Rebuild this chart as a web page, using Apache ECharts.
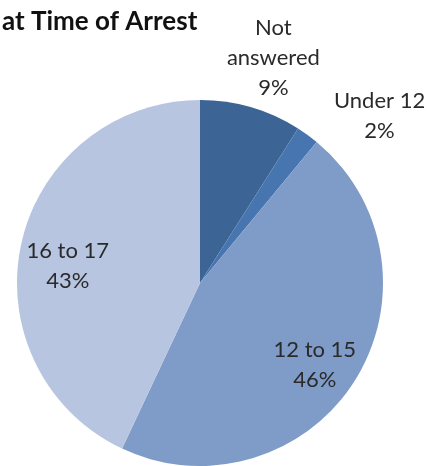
<!DOCTYPE html>
<html>
<head>
<meta charset="utf-8">
<script src="https://cdn.jsdelivr.net/npm/echarts@6/dist/echarts.min.js"></script>
<style>
  html, body { margin: 0; padding: 0; background: #fff; }
  #chart { width: 429px; height: 466px; }
</style>
</head>
<body>
<div id="chart"></div>
<script>
  // 数据
  var categories = ['Not\nanswered', 'Under 12', '12 to 15', '16 to 17'];
  var values = [9, 2, 46, 43];
  var colors = ['#3c6495', '#4775b0', '#7f9cc8', '#b7c5e0'];
  var labelOffsets = [[47, -134], [124, -91], [35, 31], [-40, 4]];

  var myChart = echarts.init(document.getElementById('chart'));
  var pieData = categories.map(function (name, i) {
    return {
      name: name,
      value: values[i],
      itemStyle: { color: colors[i] },
      label: { offset: labelOffsets[i] }
    };
  });

  myChart.setOption({
    animation: false,
    title: {
      text: 'at Time of Arrest',
      left: -3,
      top: 4,
      textStyle: {
        fontFamily: 'Lato',
        fontWeight: 'bold',
        fontSize: 26,
        color: '#111'
      }
    },
    series: [{
      type: 'pie',
      center: [200, 283],
      radius: 183,
      startAngle: 90,
      clockwise: true,
      data: pieData,
      label: {
        show: true,
        position: 'inside',
        formatter: function (p) {
          return p.name + '\n' + p.value + '%';
        },
        fontFamily: 'Lato',
        fontSize: 22,
        lineHeight: 30,
        color: '#2a2a2a',
        align: 'center'
      },
      labelLine: { show: false },
      itemStyle: { borderWidth: 0 },
      emphasis: { disabled: true }
    }]
  });
</script>
</body>
</html>
